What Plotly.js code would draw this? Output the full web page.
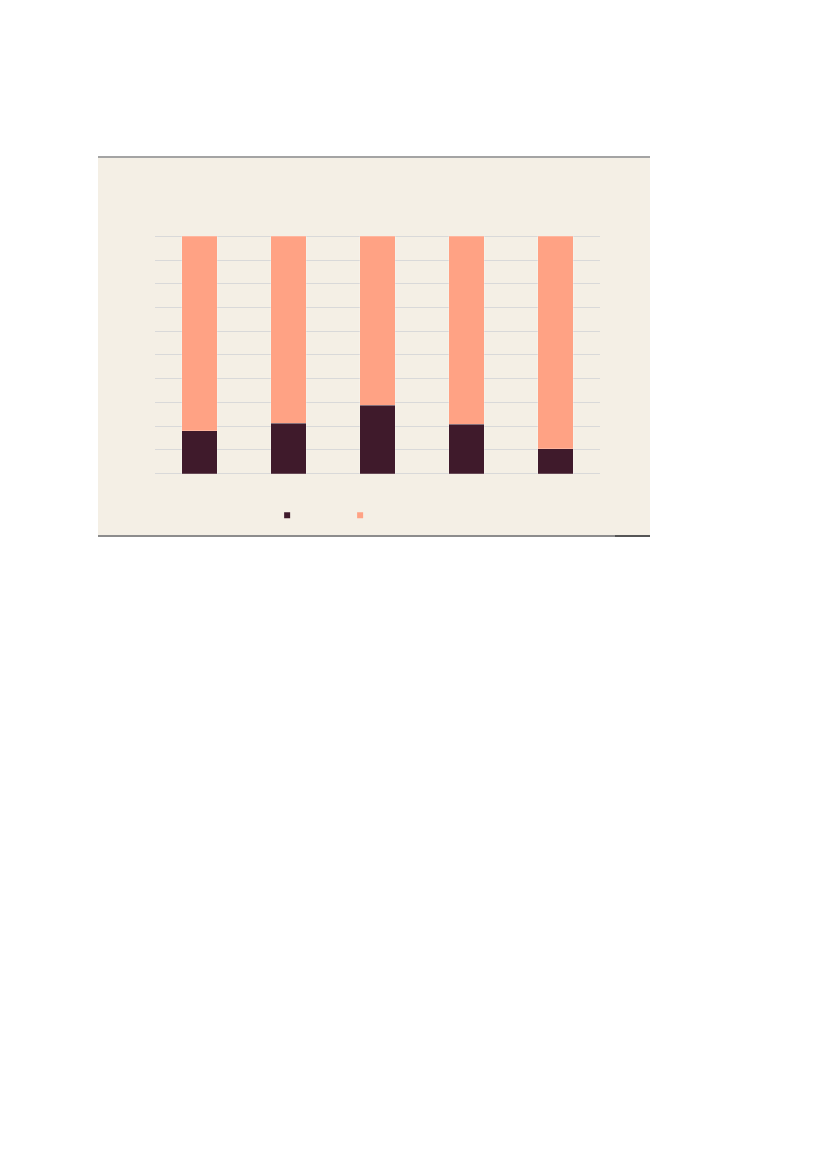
<!DOCTYPE html>
<html>
<head>
<meta charset="utf-8">
<script src="https://cdn.plot.ly/plotly-3.0.1.min.js"></script>
<style>
  body { margin: 0; background: #ffffff; width: 827px; height: 1170px; position: relative; }
  #chart { position: absolute; left: 98px; top: 158px; width: 552px; height: 377px; }
  #topline { position: absolute; left: 98px; top: 156px; width: 552px; height: 2px; background: #a4a4a4; }
  #botline { position: absolute; left: 98px; top: 535px; width: 552px; height: 2px; background: #8c8c8c; }
  #botline2 { position: absolute; left: 615px; top: 535px; width: 35px; height: 2px; background: #555555; }
</style>
</head>
<body>
<div id="topline"></div>
<div id="chart"></div>
<div id="botline"></div>
<div id="botline2"></div>
<script>
// hidden categories, shares in percent
var categories = ["1", "2", "3", "4", "5"];
var darkShare = [18.1, 21.2, 28.8, 20.7, 10.4];
var lightShare = [81.9, 78.8, 71.2, 79.3, 89.6];

var darkColor = '#3f1a2b';
var lightColor = '#ffa284';

var traceDark = {
    x: categories, y: darkShare,
    type: 'bar',
    marker: {color: darkColor, line: {color: 'rgba(255,255,255,0.35)', width: 0.6}},
    showlegend: false,
    hoverinfo: 'skip'
};
var traceLight = {
    x: categories, y: lightShare,
    type: 'bar',
    marker: {color: lightColor, line: {color: 'rgba(255,255,255,0.35)', width: 0.6}},
    showlegend: false,
    hoverinfo: 'skip'
};
// legend keys only
var keyDark = {
    x: [null], y: [null], type: 'scatter', mode: 'markers', name: ' ',
    marker: {symbol: 'square', size: 6, color: darkColor},
    legend: 'legend'
};
var keyLight = {
    x: [null], y: [null], type: 'scatter', mode: 'markers', name: ' ',
    marker: {symbol: 'square', size: 6, color: lightColor},
    legend: 'legend2'
};

var data = [traceDark, traceLight, keyDark, keyLight];
var layout = {
    width: 552,
    height: 377,
    paper_bgcolor: '#f4efe5',
    plot_bgcolor: '#f4efe5',
    barmode: 'stack',
    bargap: 0.6,
    font: {family: 'Liberation Sans', size: 11, color: '#595959'},
    margin: {l: 57, r: 50, t: 76, b: 60, autoexpand: false},
    xaxis: {
        showticklabels: false, showgrid: false, zeroline: false,
        showline: false, ticks: '', fixedrange: true
    },
    yaxis: {
        range: [-0.6, 101], tickvals: [0, 10, 20, 30, 40, 50, 60, 70, 80, 90, 100],
        showticklabels: false,
        gridcolor: '#d9d9d9', gridwidth: 1, zeroline: false,
        showline: false, ticks: ''
    },
    legend: {
        x: 0.252, y: -0.167, xanchor: 'left', yanchor: 'middle',
        bgcolor: 'rgba(0,0,0,0)', itemwidth: 30
    },
    legend2: {
        x: 0.416, y: -0.167, xanchor: 'left', yanchor: 'middle',
        bgcolor: 'rgba(0,0,0,0)', itemwidth: 30
    }
};

Plotly.newPlot('chart', data, layout, {displayModeBar: false, staticPlot: true});
</script>
</body>
</html>
